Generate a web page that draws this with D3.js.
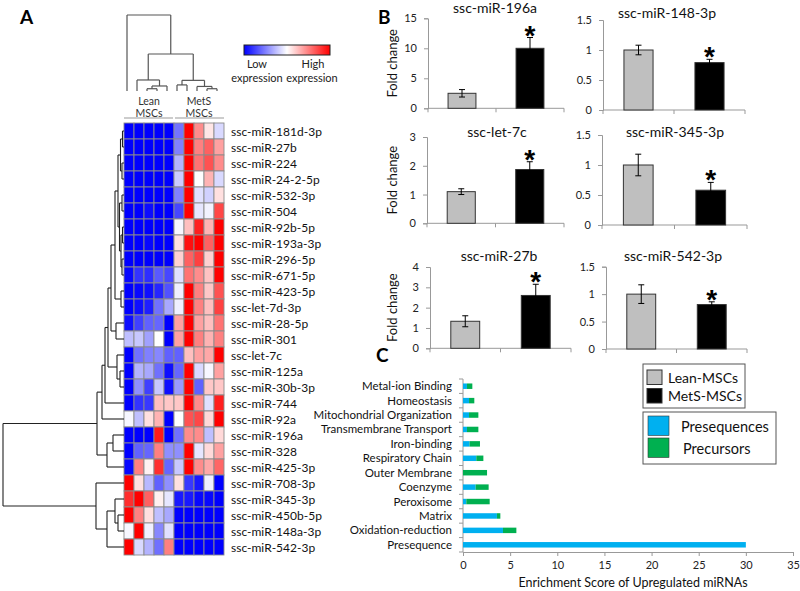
<!DOCTYPE html>
<html><head><meta charset="utf-8">
<script src="https://cdn.jsdelivr.net/npm/d3@7/dist/d3.min.js"></script>
<style>
body{margin:0;background:#fff;}
svg{display:block;font-family:Lato,"Open Sans",sans-serif;}
</style></head><body>
<svg id="c" width="800" height="591"></svg>
<script>
// ---------- DATA ----------
const rowLabels = ["ssc-miR-181d-3p","ssc-miR-27b","ssc-miR-224","ssc-miR-24-2-5p","ssc-miR-532-3p","ssc-miR-504","ssc-miR-92b-5p","ssc-miR-193a-3p","ssc-miR-296-5p","ssc-miR-671-5p","ssc-miR-423-5p","ssc-let-7d-3p","ssc-miR-28-5p","ssc-miR-301","ssc-let-7c","ssc-miR-125a","ssc-miR-30b-3p","ssc-miR-744","ssc-miR-92a","ssc-miR-196a","ssc-miR-328","ssc-miR-425-3p","ssc-miR-708-3p","ssc-miR-345-3p","ssc-miR-450b-5p","ssc-miR-148a-3p","ssc-miR-542-3p"];
const colGroups = [["Lean","MSCs"],["MetS","MSCs"]];
const heatValues = [
 [-1,-1,-1,-1,-1,-0.55,1,0.45,0.1,-0.15],
 [-1,-1,-1,-1,-1,-0.5,1,0.5,0.62,0.37],
 [-1,-1,-1,-1,-1,-0.3,1,0.55,0.68,0.45],
 [-1,-1,-1,-1,-1,-0.2,1,0,0.3,-0.15],
 [-1,-1,-1,-1,-1,-0.5,1,-0.12,-0.18,0.12],
 [-1,-1,-0.95,-1,-1,-0.72,1,-0.1,-0.05,0.72],
 [-1,-1,-1,-1,-1,-0.03,0.25,0.88,0.3,1],
 [-1,-1,-0.97,-1,-1,0.12,0.94,1,0.62,1],
 [-1,-1,-1,-1,-1,0.18,0.62,0.75,0.18,1],
 [-0.97,-0.8,-0.82,-0.65,-0.72,-0.12,0.55,0.45,0.24,1],
 [-1,-0.97,-0.94,-0.85,-0.68,-0.06,1,0.5,0.22,0.68],
 [-1,-0.94,-0.88,-0.56,-0.34,-0.06,1,0.5,0.25,0.75],
 [-0.94,-0.75,-0.62,-0.6,-1,0.37,1,0.37,0.25,0.55],
 [-0.25,-0.22,-0.37,0,-1,0.37,1,0.5,0.3,0.5],
 [-1,-0.56,-0.5,-0.47,-0.62,-0.62,0.25,0.37,0.34,1],
 [-1,-0.3,-0.34,-0.56,-0.94,-0.6,1,-0.15,-0.03,0.37],
 [-1,-0.44,-0.75,-0.22,-0.94,-0.4,1,-0.62,0.22,0.22],
 [-1,-0.8,-0.78,0.25,0.22,0.22,1,0.45,-0.12,0.88],
 [-0.03,-0.25,0.12,0.3,-1,0,0.68,0.72,0.15,1],
 [-1,-1,-1,0.9,-1,-0.56,0.45,0.45,-0.25,0.15],
 [-1,-0.62,-0.6,0.5,-0.44,-0.44,1,-0.1,0.15,0.37],
 [-0.97,0.5,0.05,0.82,-0.6,-0.22,1,0.45,0.34,0.6],
 [1,0.12,-0.28,-0.62,-0.44,0.12,-0.78,-0.9,-0.06,-1],
 [0.82,1,0.62,0.06,-0.1,-0.9,-0.9,-0.97,-0.97,-1],
 [1,0.5,0.12,-0.25,-0.34,-1,-1,-1,-1,-1],
 [-0.03,1,-0.06,-0.47,-0.12,-1,-1,-1,-1,-1],
 [1,-0.15,-0.3,-0.56,0.5,-1,-1,-1,-1,-1]
];
// dendrograms: [height, left, right]; leaves are indices
const rowTree = [121,
  [27,
    [22,
      [19,
        [16,
          [13,
            [9,
              [6,
                [3.5,[1.5,0,1],[2,2,3]],
                [4.5,[2,4,5],[3,[1.5,6,7],[2,8,9]]]],
              [3,10,11]],
            [8,12,13]],
          [7,14,[4,15,16]]],
        17],
      18],
    [17,[11,19,20],21]],
  [28,22,[17,[9,23,[6,24,25]],26]]];
const colTree = [1.0, 0, [0.487, [0.145, 1, [0.066, [0.03, 2, 3], 4]], [0.14, [0.08, 5, 6], [0.06, 7, [0.03, 8, 9]]]]];

const qpcrTitles = ["ssc-miR-196a","ssc-miR-148-3p","ssc-let-7c","ssc-miR-345-3p","ssc-miR-27b","ssc-miR-542-3p"];
const groups = ["Lean-MSCs","MetS-MSCs"];
const leanMean = [2.5, 1.0, 1.1, 1.0, 1.33, 1.0];
const leanErr  = [0.62, 0.08, 0.1, 0.18, 0.27, 0.17];
const metsMean = [10, 0.79, 1.87, 0.58, 2.6, 0.81];
const metsErr  = [1.8, 0.055, 0.27, 0.13, 0.55, 0.05];
const qpcrTicks = [[0,5,10,15],[0,0.5,1,1.5],[0,1,2,3],[0,0.5,1,1.5],[0,1,2,3,4],[0,0.5,1,1.5]];

const enrichCats = ["Metal-ion Binding","Homeostasis","Mitochondrial Organization","Transmembrane Transport","Iron-binding","Respiratory Chain","Outer Membrane","Coenzyme","Peroxisome","Matrix","Oxidation-reduction","Presequence"];
const presequences = [0.42,0.64,0.64,0.42,0.7,1.41,0,1.34,0.35,3.6,4.24,30];
const precursors   = [0.57,0.56,0.99,1.21,1.1,0.75,2.55,1.38,2.48,0.36,1.42,0];
const enrichTicks = [0,5,10,15,20,25,30,35];
const enrichLegend = ["Presequences","Precursors"];

// ---------- DRAW ----------
const svg = d3.select("#c");
svg.append("rect").attr("width",800).attr("height",591).attr("fill","#fff");

[["A",20,24],["B",378,24],["C",376,362]].forEach(([t,x,y])=>
  svg.append("text").attr("x",x).attr("y",y).attr("font-size",19).attr("font-weight","bold").text(t));

// ----- Panel A heatmap -----
const nCols = heatValues[0].length;
const hx = d3.scaleBand().domain(d3.range(nCols)).range([124,224]);
const hy = d3.scaleBand().domain(d3.range(rowLabels.length)).range([123,555]);
const heatColor = d3.scaleLinear().domain([-1,0,1]).range(["#0000ff","#ffffff","#ff0000"]);
const gH = svg.append("g");
heatValues.forEach((row,i)=>row.forEach((v,j)=>{
  gH.append("rect").attr("x",hx(j)).attr("y",hy(i)).attr("width",hx.bandwidth()).attr("height",hy.bandwidth())
    .attr("fill",heatColor(v)).attr("stroke","#8c8c8c").attr("stroke-width",0.9);
}));
gH.selectAll("text.rl").data(rowLabels).enter().append("text")
  .attr("x",231).attr("y",(d,i)=>hy(i)+hy.bandwidth()/2+4.5)
  .attr("font-size",12).attr("fill","#111").text(d=>d);

function drawTree(g, tree, leafPos, hPos, orient){
  function rec(n){
    if(typeof n === "number") return {p:leafPos(n), h:0};
    const a = rec(n[1]), b = rec(n[2]);
    const H = n[0];
    const line = (p1,h1,p2,h2)=>{
      if(orient==="row") g.append("line").attr("x1",hPos(h1)).attr("y1",p1).attr("x2",hPos(h2)).attr("y2",p2);
      else g.append("line").attr("x1",p1).attr("y1",hPos(h1)).attr("x2",p2).attr("y2",hPos(h2));
    };
    line(a.p,a.h,a.p,H); line(b.p,b.h,b.p,H); line(a.p,H,b.p,H);
    return {p:(a.p+b.p)/2, h:H};
  }
  rec(tree);
}
const gRT = svg.append("g").attr("stroke","#222").attr("stroke-width",1.1);
drawTree(gRT,rowTree,i=>hy(i)+hy.bandwidth()/2,d3.scaleLinear().domain([0,121]).range([124,3]),"row");
const gCT = svg.append("g").attr("stroke","#555").attr("stroke-width",1.2);
drawTree(gCT,colTree,j=>hx(j)+hx.bandwidth()/2-2,d3.scaleLinear().domain([0,1]).range([91,15]),"col");

const grpX = d3.scaleBand().domain([0,1]).range([124,224]);
colGroups.forEach((g,k)=>{
  const cx = grpX(k)+grpX.bandwidth()/2;
  g.forEach((t,l)=>svg.append("text").attr("x",cx).attr("y",105+l*11.5).attr("text-anchor","middle")
    .attr("font-size",10.5).attr("fill","#333").text(t));
  svg.append("line").attr("x1",grpX(k)+(k?1:0)).attr("x2",grpX(k)+grpX.bandwidth()-(k?0:1))
    .attr("y1",118).attr("y2",118).attr("stroke","#999").attr("stroke-width",1);
});

const defs = svg.append("defs");
const lg = defs.append("linearGradient").attr("id","hg");
[[0,-1],[50,0],[100,1]].forEach(([o,v])=>lg.append("stop").attr("offset",o+"%").attr("stop-color",heatColor(v)));
svg.append("rect").attr("x",244).attr("y",45).attr("width",86).attr("height",10)
  .attr("fill","url(#hg)").attr("stroke","#222").attr("stroke-width",1);
[["Low",257,68],["expression",257,82],["High",313,68],["expression",312,82]].forEach(([t,x,y])=>
  svg.append("text").attr("x",x).attr("y",y).attr("text-anchor","middle").attr("font-size",11).attr("fill","#222").text(t));

// ----- Panel B -----
const panels = [
  {x0:428,x1:564,y0:108.3,yT:18.3,tx:495,ty:13,max:15},
  {x0:603,x1:745,y0:110,yT:20,tx:667,ty:18,max:1.5},
  {x0:427,x1:564,y0:223.3,yT:137,tx:497,ty:137,max:3},
  {x0:602,x1:747,y0:225,yT:135,tx:675,ty:137,max:1.5},
  {x0:430,x1:571,y0:348.3,yT:267,tx:499,ty:261,max:4},
  {x0:606,x1:747,y0:349,yT:266.7,tx:673,ty:261,max:1.5}
];
panels.forEach((P,i)=>{
  const g = svg.append("g");
  const y = d3.scaleLinear().domain([0,P.max]).range([P.y0,P.yT]);
  const x = d3.scaleBand().domain(groups).range([P.x0,P.x1]);
  const bw = x.bandwidth()*0.41;
  const ya = g.append("g").attr("transform",`translate(${P.x0},0)`)
    .call(d3.axisLeft(y).tickValues(qpcrTicks[i]).tickSize(4).tickFormat(d3.format("~g")));
  ya.select(".domain").attr("stroke","#999");
  ya.selectAll(".tick line").attr("stroke","#999");
  ya.selectAll(".tick text").attr("font-size",11).attr("fill","#222").attr("font-family","Lato,'Open Sans',sans-serif").attr("dx",-4);
  g.append("line").attr("x1",P.x0).attr("x2",P.x1).attr("y1",P.y0).attr("y2",P.y0).attr("stroke","#999");
  [P.x0, x(groups[1]), P.x1].forEach(xx=>g.append("line").attr("x1",xx).attr("x2",xx).attr("y1",P.y0).attr("y2",P.y0+4).attr("stroke","#999"));
  const means=[leanMean[i],metsMean[i]], errs=[leanErr[i],metsErr[i]];
  g.append("text").attr("x",P.tx).attr("y",P.ty).attr("text-anchor","middle").attr("font-size",14).attr("fill","#111").text(qpcrTitles[i]);
  groups.forEach((gname,k)=>{
    const cx = x(gname)+x.bandwidth()/2;
    g.append("rect").attr("x",cx-bw/2).attr("y",y(means[k])).attr("width",bw).attr("height",P.y0-y(means[k]))
      .attr("fill",k?"#000":"#bfbfbf").attr("stroke","#333").attr("stroke-width",1);
    const e = g.append("g").attr("stroke","#000").attr("stroke-width",1);
    e.append("line").attr("x1",cx).attr("x2",cx).attr("y1",y(means[k]-errs[k])).attr("y2",y(means[k]+errs[k]));
    e.append("line").attr("x1",cx-3).attr("x2",cx+3).attr("y1",y(means[k]+errs[k])).attr("y2",y(means[k]+errs[k]));
    e.append("line").attr("x1",cx-3).attr("x2",cx+3).attr("y1",y(means[k]-errs[k])).attr("y2",y(means[k]-errs[k]));
    if(k===1){
      g.append("text").attr("x",cx).attr("y",y(means[k]+errs[k])+7).attr("text-anchor","middle")
        .attr("font-size",28).attr("font-weight","bold").attr("font-family","'Liberation Sans',Arial,sans-serif").text("*");
    }
  });
  if(i%2===0){
    g.append("text").attr("transform",`translate(397,${(P.y0+P.yT)/2}) rotate(-90)`).attr("text-anchor","middle")
      .attr("font-size",13).attr("fill","#111").text("Fold change");
  }
});

svg.append("rect").attr("x",643).attr("y",364).attr("width",102).attr("height",44).attr("fill","#fff").attr("stroke","#555");
groups.forEach((t,k)=>{
  svg.append("rect").attr("x",647).attr("y",370+k*18.5).attr("width",15).attr("height",14.5)
    .attr("fill",k?"#000":"#bfbfbf").attr("stroke","#333");
  svg.append("text").attr("x",668).attr("y",383+k*18).attr("font-size",14).attr("fill","#111").text(t);
});

// ----- Panel C -----
const cy = d3.scaleBand().domain(enrichCats).range([379,552]).paddingInner(0.62).paddingOuter(0.31);
const cyB = d3.scaleBand().domain(enrichCats).range([379,552]);
const cx = d3.scaleLinear().domain([0,35]).range([463,793]);
const gC = svg.append("g");
gC.append("line").attr("x1",463).attr("x2",463).attr("y1",379).attr("y2",552).attr("stroke","#999");
enrichCats.concat([null]).forEach((c,k)=>{
  const yy = k<enrichCats.length ? cyB(c) : 552;
  gC.append("line").attr("x1",459).attr("x2",463).attr("y1",yy).attr("y2",yy).attr("stroke","#999");
});
enrichCats.forEach((c,k)=>{
  gC.append("rect").attr("x",cx(0)).attr("y",cy(c)).attr("width",cx(presequences[k])-cx(0)).attr("height",cy.bandwidth()).attr("fill","#00b0f0");
  gC.append("rect").attr("x",cx(presequences[k])).attr("y",cy(c)).attr("width",cx(presequences[k]+precursors[k])-cx(presequences[k])).attr("height",cy.bandwidth()).attr("fill","#00b050");
  gC.append("text").attr("x",452).attr("y",cyB(c)+cyB.bandwidth()/2+4).attr("text-anchor","end").attr("font-size",11.5).attr("fill","#111").text(c);
});
const xa = gC.append("g").attr("transform","translate(0,552)").call(d3.axisBottom(cx).tickValues(enrichTicks).tickSize(4));
xa.select(".domain").attr("stroke","#999");
xa.selectAll(".tick line").attr("stroke","#999");
xa.selectAll(".tick text").attr("font-size",11).attr("fill","#222").attr("font-family","Lato,'Open Sans',sans-serif").attr("dy","0.9em");
gC.append("text").attr("x",633).attr("y",587).attr("text-anchor","middle").attr("font-size",12.5).attr("fill","#111").text("Enrichment Score of Upregulated miRNAs");

svg.append("rect").attr("x",643).attr("y",412).attr("width",133).attr("height",52).attr("fill","#fff").attr("stroke","#555");
enrichLegend.forEach((t,k)=>{
  svg.append("rect").attr("x",648).attr("y",416+k*22).attr("width",21).attr("height",19.5)
    .attr("fill",k?"#00b050":"#00b0f0").attr("stroke","#333").attr("stroke-width",0.6);
  svg.append("text").attr("x",681+k*2).attr("y",432+k*22).attr("font-size",14.5).attr("fill","#111").text(t);
});
</script>
</body></html>
